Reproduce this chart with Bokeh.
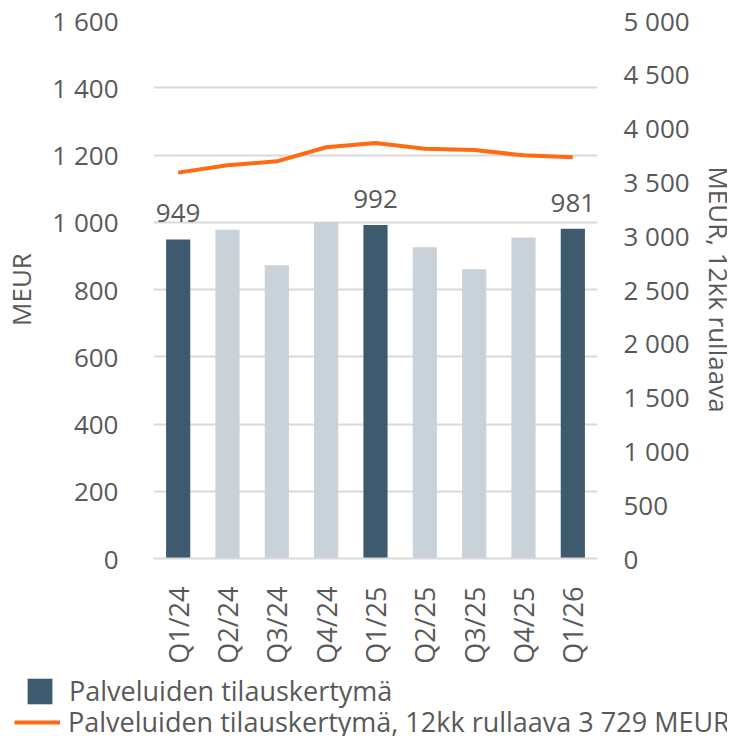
import math
from bokeh.plotting import figure
from bokeh.layouts import column, row
from bokeh.models import (ColumnDataSource, Range1d, LinearAxis, FixedTicker,
                          Legend, LegendItem, LabelSet, Label, FactorRange)
from bokeh.core.properties import value
from bokeh.embed import file_html
from bokeh.resources import INLINE

# ---- data ----
quarters = ["Q1/24", "Q2/24", "Q3/24", "Q4/24", "Q1/25", "Q2/25", "Q3/25", "Q4/25", "Q1/26"]
order_intake = [949, 978, 872, 1001, 992, 926, 860, 955, 981]
rolling_12m = [3586, 3654, 3691, 3822, 3862, 3809, 3796, 3747, 3729]
bar_labels = ["949", "", "", "", "992", "", "", "", "981"]
left_ticks = [0, 200, 400, 600, 800, 1000, 1200, 1400, 1600]
left_tick_labels = ["0", "200", "400", "600", "800", "1 000", "1 200", "1 400", "1 600"]
right_ticks = [0, 500, 1000, 1500, 2000, 2500, 3000, 3500, 4000, 4500, 5000]
right_tick_labels = ["0", "500", "1 000", "1 500", "2 000", "2 500", "3 000", "3 500",
                     "4 000", "4 500", "5 000"]
bar_series_name = "Palveluiden tilauskertymä"
line_series_name = "Palveluiden tilauskertymä, 12kk rullaava 3 729 MEUR"
left_axis_title = "MEUR"
right_axis_title = "MEUR, 12kk rullaava"

# ---- style ----
DARK = "#3e5a6e"
LIGHT = "#c9d1d9"
ORANGE = "#ff6a13"
TEXT = "#595959"
GRID = "#d9d9d9"
FONT = "Open Sans"
FS = "26px"
FS_L = "27px"

TOP, BOTTOM = 20, 110
MAIN_W, STRIP_W = 702, 25

bar_colors = [DARK if q.startswith("Q1") else LIGHT for q in quarters]
src = ColumnDataSource(dict(q=quarters, v=order_intake, r=rolling_12m,
                            lab=bar_labels, c=bar_colors))

p = figure(x_range=FactorRange(*quarters, range_padding=0),
           y_range=Range1d(0, 1600),
           width=MAIN_W, height=668,
           min_border_left=146, min_border_right=105,
           min_border_top=TOP, min_border_bottom=BOTTOM,
           output_backend="svg", toolbar_location=None,
           background_fill_color="white", border_fill_color="white",
           outline_line_color=None)
p.frame_align = False
p.extra_y_ranges = {"r": Range1d(0, 5000)}

bars = p.vbar(x="q", top="v", width=0.49, color="c", line_color=None, source=src)
line = p.line(x="q", y="r", y_range_name="r", line_color=ORANGE, line_width=4,
              line_join="round", source=src)

labels = LabelSet(x="q", y="v", text="lab", source=src, y_offset=17,
                  text_align="center", text_baseline="alphabetic",
                  text_font=value(FONT), text_font_size=value(FS), text_color=TEXT)
p.add_layout(labels)

def style_axis(ax, std, lab_std):
    ax.axis_line_color = None
    ax.major_tick_line_color = None
    ax.minor_tick_line_color = None
    ax.major_tick_out = 0
    ax.major_tick_in = 0
    ax.minor_tick_out = 0
    ax.minor_tick_in = 0
    ax.major_label_standoff = std
    ax.axis_label_standoff = lab_std
    ax.major_label_text_font = FONT
    ax.major_label_text_font_size = FS
    ax.major_label_text_color = TEXT
    ax.axis_label_text_font = FONT
    ax.axis_label_text_font_size = FS
    ax.axis_label_text_font_style = "normal"
    ax.axis_label_text_color = TEXT

# left axis
ya = p.yaxis[0]
ya.ticker = FixedTicker(ticks=left_ticks)
ya.major_label_overrides = dict(zip(left_ticks, left_tick_labels))
ya.axis_label = left_axis_title
style_axis(ya, 35, 10)

# right axis (its title is drawn in the strip to its right)
ra = LinearAxis(y_range_name="r", ticker=FixedTicker(ticks=right_ticks),
                major_label_overrides=dict(zip(right_ticks, right_tick_labels)))
style_axis(ra, 26, 0)
p.add_layout(ra, "right")

# x axis
xa = p.xaxis[0]
style_axis(xa, 28, 0)
xa.major_label_text_font_size = FS_L
xa.major_label_orientation = math.pi / 2
xa.axis_line_color = GRID
xa.axis_line_width = 2

p.xgrid.grid_line_color = None
p.ygrid.grid_line_color = GRID
p.ygrid.grid_line_width = 2

# ---- right axis title strip ----
strip = figure(width=STRIP_W, height=668, x_range=Range1d(0, 1), y_range=Range1d(0, 1),
               min_border_left=0, min_border_right=0,
               min_border_top=TOP, min_border_bottom=BOTTOM,
               output_backend="svg", toolbar_location=None,
               outline_line_color=None, background_fill_color="white",
               border_fill_color="white")
strip.frame_align = False
strip.axis.visible = False
strip.grid.visible = False
strip.add_layout(Label(x=0.64, y=0.5, text=right_axis_title, angle=-math.pi / 2,
                       text_align="center", text_baseline="middle",
                       text_font=FONT, text_font_size=FS,
                       text_color=TEXT))

# ---- legend strip (separate figure below the chart) ----
lg = figure(width=727, height=72, x_range=Range1d(0, 1), y_range=Range1d(0, 1),
            min_border=0, output_backend="svg", toolbar_location=None,
            outline_line_color=None, background_fill_color="white",
            border_fill_color="white")
lg.frame_align = False
lg.axis.visible = False
lg.grid.visible = False
dummy_src = ColumnDataSource(dict(x=[2, 3], y=[2, 3]))
d_bar = lg.vbar(x="x", top="y", width=0.1, color=DARK, line_color=None,
                source=dummy_src, visible=False)
d_line = lg.line(x="x", y="y", line_color=ORANGE, line_width=4, source=dummy_src,
                 visible=False)

leg1 = Legend(items=[LegendItem(label=bar_series_name, renderers=[d_bar], index=0)],
              location=(24, 31), orientation="vertical",
              glyph_width=31, glyph_height=32, label_height=32, label_standoff=14,
              label_text_font=FONT, label_text_font_size=FS_L, label_text_color=TEXT,
              padding=0, margin=0, border_line_color=None, background_fill_alpha=0)
leg2 = Legend(items=[LegendItem(label=line_series_name, renderers=[d_line])],
              location=(14, 0), orientation="vertical",
              glyph_width=46, glyph_height=26, label_height=26, label_standoff=8,
              label_text_font=FONT, label_text_font_size=FS_L, label_text_color=TEXT,
              padding=0, margin=0, border_line_color=None, background_fill_alpha=0)
lg.add_layout(leg1)
lg.add_layout(leg2)

layout = column(row(p, strip, spacing=0), lg, spacing=0)
open("out.html", "w").write(file_html(layout, INLINE))
